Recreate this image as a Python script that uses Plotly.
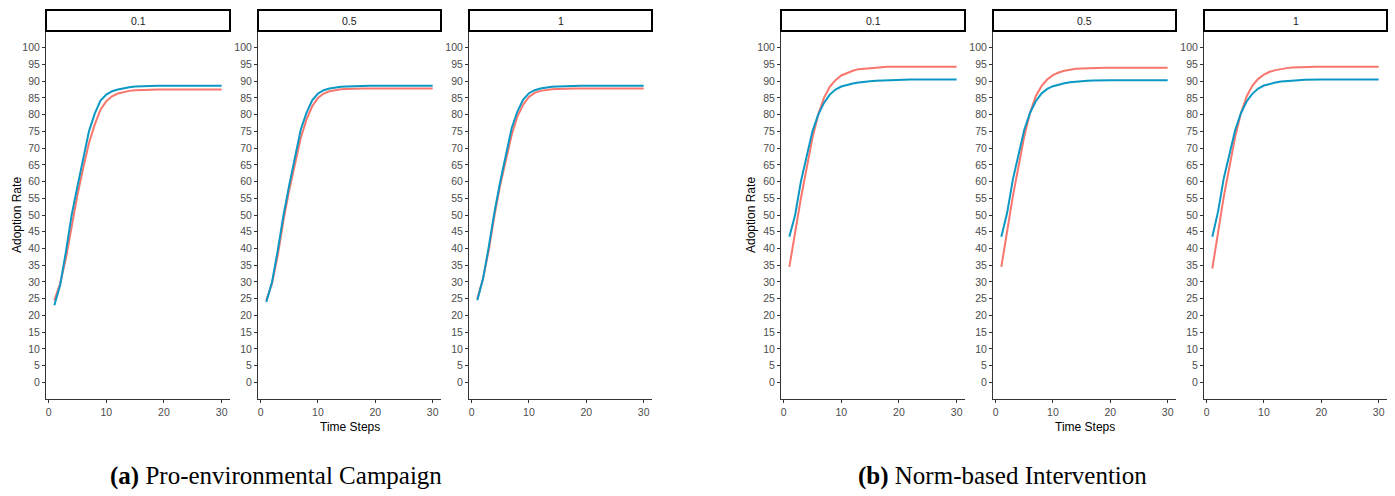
import plotly.graph_objects as go

W, H = 1395, 496

time_steps = list(range(1, 31))
facet_labels = ["0.1", "0.5", "1"]

# (a) Pro-environmental Campaign
a_red = [
    [24.5, 29.5, 37, 47, 56, 64, 71.5, 77, 81.5, 84, 85.5, 86.3, 86.8, 87.1, 87.3,
     87.4, 87.5, 87.5, 87.5, 87.5, 87.5, 87.5, 87.5, 87.5, 87.5, 87.5, 87.5, 87.5, 87.5, 87.5],
    [24.5, 29.5, 38, 48.5, 57.5, 65.5, 73, 78.5, 82.5, 85, 86.3, 87, 87.4, 87.6, 87.7,
     87.8, 87.8, 87.8, 87.8, 87.8, 87.8, 87.8, 87.8, 87.8, 87.8, 87.8, 87.8, 87.8, 87.8, 87.8],
    [25, 31, 39.5, 50, 59, 67, 74, 79.5, 83, 85.3, 86.5, 87.1, 87.4, 87.6, 87.7,
     87.8, 87.8, 87.8, 87.8, 87.8, 87.8, 87.8, 87.8, 87.8, 87.8, 87.8, 87.8, 87.8, 87.8, 87.8],
]
a_blue = [
    [23, 29, 39, 50, 58.5, 66.5, 75, 80.3, 84.2, 86, 87, 87.5, 87.9, 88.2, 88.4,
     88.5, 88.6, 88.6, 88.6, 88.6, 88.6, 88.6, 88.6, 88.6, 88.6, 88.6, 88.6, 88.6, 88.6, 88.6],
    [24, 30, 39.5, 50, 59, 67.5, 75.5, 80.5, 84.3, 86.3, 87.3, 87.8, 88.1, 88.3, 88.4,
     88.5, 88.6, 88.6, 88.6, 88.6, 88.6, 88.6, 88.6, 88.6, 88.6, 88.6, 88.6, 88.6, 88.6, 88.6],
    [24.5, 31, 40.5, 51, 60, 68, 76, 81, 84.5, 86.4, 87.3, 87.8, 88.1, 88.3, 88.4,
     88.5, 88.6, 88.6, 88.6, 88.6, 88.6, 88.6, 88.6, 88.6, 88.6, 88.6, 88.6, 88.6, 88.6, 88.6],
]

# (b) Norm-based Intervention
b_red = [
    [34.5, 45, 55, 64, 73, 80, 85, 88.3, 90.3, 91.7, 92.5, 93.1, 93.6, 93.8, 94.0,
     94.1, 94.2, 94.3, 94.3, 94.3, 94.3, 94.3, 94.3, 94.3, 94.3, 94.3, 94.3, 94.3, 94.3, 94.3],
    [34.5, 45.5, 55.5, 64.5, 73.5, 80.5, 85.5, 88.5, 90.5, 91.8, 92.6, 93.1, 93.5, 93.7, 93.8,
     93.9, 94.0, 94.0, 94.0, 94.0, 94.0, 94.0, 94.0, 94.0, 94.0, 94.0, 94.0, 94.0, 94.0, 94.0],
    [34, 45, 55.5, 64.5, 73.5, 80.5, 85.5, 88.7, 90.7, 92, 92.8, 93.3, 93.7, 93.9, 94.1,
     94.2, 94.3, 94.3, 94.3, 94.3, 94.3, 94.3, 94.3, 94.3, 94.3, 94.3, 94.3, 94.3, 94.3, 94.3],
]
b_blue = [
    [43.5, 50, 60, 67.5, 75, 80, 83.5, 86, 87.5, 88.4, 88.9, 89.3, 89.6, 89.9, 90.0,
     90.1, 90.2, 90.3, 90.4, 90.5, 90.5, 90.5, 90.5, 90.5, 90.5, 90.5, 90.5, 90.5, 90.5, 90.5],
    [43.5, 50.5, 60.5, 68, 75.5, 80.5, 84, 86.3, 87.7, 88.5, 89, 89.4, 89.7, 89.9, 90.0,
     90.1, 90.2, 90.3, 90.3, 90.3, 90.3, 90.3, 90.3, 90.3, 90.3, 90.3, 90.3, 90.3, 90.3, 90.3],
    [43.5, 51, 61, 68.5, 75.5, 80.5, 84, 86.3, 87.8, 88.7, 89.2, 89.6, 89.9, 90.1, 90.2,
     90.3, 90.4, 90.5, 90.5, 90.5, 90.5, 90.5, 90.5, 90.5, 90.5, 90.5, 90.5, 90.5, 90.5, 90.5],
]

y_ticks = list(range(0, 101, 5))
x_ticks = [0, 10, 20, 30]

RED = "#F8766D"
BLUE = "#0C98C4"

# panel pixel extents (left, right)
panels_px = [(46, 230), (258, 441), (469, 652), (781, 965), (993, 1176), (1204, 1387)]
plot_top, plot_bot = 31, 399
strip_top = 10


def fx(px):
    return px / W


def fy(py):
    return 1 - py / H


fig = go.Figure()
layout = dict(
    width=W, height=H, margin=dict(l=0, r=0, t=0, b=0),
    paper_bgcolor="white", plot_bgcolor="white", showlegend=False,
    font=dict(family="Liberation Sans, Arial, sans-serif"),
)
shapes = []
annotations = []

all_red = a_red + b_red
all_blue = a_blue + b_blue
for i, (l, r) in enumerate(panels_px):
    k = i + 1
    xa = "x" if k == 1 else f"x{k}"
    ya = "y" if k == 1 else f"y{k}"
    fig.add_trace(go.Scatter(x=time_steps, y=all_red[i], mode="lines",
                             line=dict(color=RED, width=2), xaxis=xa, yaxis=ya, name="red"))
    fig.add_trace(go.Scatter(x=time_steps, y=all_blue[i], mode="lines",
                             line=dict(color=BLUE, width=2), xaxis=xa, yaxis=ya, name="blue"))
    axcommon = dict(showgrid=False, zeroline=False, showline=True, linecolor="#333333",
                    linewidth=1, ticks="outside", ticklen=3, tickwidth=1, tickcolor="#333333",
                    tickfont=dict(size=10.5, color="#4D4D4D"))
    layout[f"xaxis{'' if k == 1 else k}"] = dict(
        domain=[fx(l), fx(r)], anchor=ya, range=[-0.45, 31.45],
        tickmode="array", tickvals=x_ticks, ticktext=[str(v) for v in x_ticks], **axcommon)
    layout[f"yaxis{'' if k == 1 else k}"] = dict(
        domain=[fy(plot_bot), fy(plot_top)], anchor=xa, range=[-5, 105],
        tickmode="array", tickvals=y_ticks, ticktext=[str(v) for v in y_ticks], **axcommon)
    # strip
    shapes.append(dict(type="rect", xref="paper", yref="paper",
                       x0=fx(l), x1=fx(r), y0=fy(plot_top), y1=fy(strip_top),
                       line=dict(color="black", width=2), fillcolor="white"))
    annotations.append(dict(xref="paper", yref="paper", x=fx((l + r) / 2),
                            y=fy((strip_top + plot_top) / 2), text=facet_labels[i % 3],
                            showarrow=False, font=dict(size=10.5, color="#1A1A1A"),
                            xanchor="center", yanchor="middle"))

# axis titles
for xc in (17, 751):
    annotations.append(dict(xref="paper", yref="paper", x=fx(xc), y=fy(215),
                            text="Adoption Rate", textangle=-90, showarrow=False,
                            font=dict(size=12, color="black"),
                            xanchor="center", yanchor="middle"))
for xc in (349.5, 1084.5):
    annotations.append(dict(xref="paper", yref="paper", x=fx(xc), y=fy(427),
                            text="Time Steps", showarrow=False,
                            font=dict(size=12, color="black"),
                            xanchor="center", yanchor="middle"))

# captions
captions = [("<b>(a)</b> Pro-environmental Campaign", 276),
            ("<b>(b)</b> Norm-based Intervention", 1002)]
for txt, xc in captions:
    annotations.append(dict(xref="paper", yref="paper", x=fx(xc), y=fy(476),
                            text=txt, showarrow=False,
                            font=dict(size=25, color="black",
                                      family="Liberation Serif, Times New Roman, serif"),
                            xanchor="center", yanchor="middle"))

layout["shapes"] = shapes
layout["annotations"] = annotations
fig.update_layout(**layout)
fig.write_html("out.html", config={"displayModeBar": False, "staticPlot": True})

# remove default page margin so the figure sits at the window's top-left corner
with open("out.html", "r", encoding="utf-8") as f:
    html = f.read()
html = html.replace("<head>", "<head><style>html,body{margin:0;padding:0;overflow:hidden;}</style>", 1)
with open("out.html", "w", encoding="utf-8") as f:
    f.write(html)
